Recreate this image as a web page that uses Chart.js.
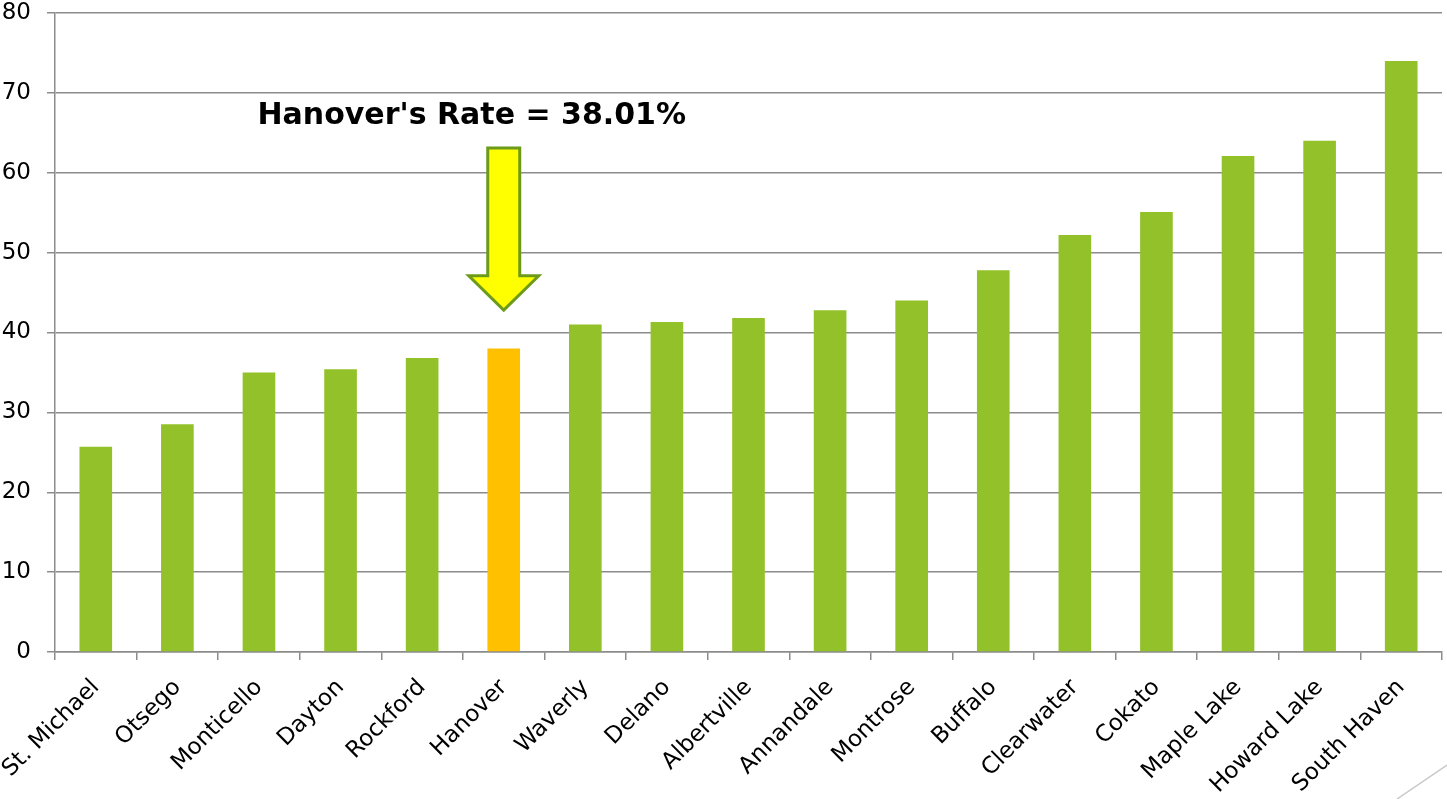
<!DOCTYPE html>
<html>
<head>
<meta charset="utf-8">
<script src="https://cdn.jsdelivr.net/npm/chart.js@4"></script>
<style>
  html, body { margin: 0; padding: 0; background: #fff; }
  #wrap { width: 1447px; height: 799px; }
</style>
</head>
<body>
<div id="wrap"><canvas id="rateChart"></canvas></div>
<script>
// chart data
let cities = ["St. Michael", "Otsego", "Monticello", "Dayton", "Rockford", "Hanover", "Waverly",
  "Delano", "Albertville", "Annandale", "Montrose", "Buffalo", "Clearwater", "Cokato",
  "Maple Lake", "Howard Lake", "South Haven"];
let rates = [25.7, 28.5, 35.0, 35.4, 36.8, 38.01, 41.0, 41.3, 41.8, 42.8, 44.0, 47.8, 52.2, 55.1, 62.1, 64.0, 74.0];
let yTicks = [0, 10, 20, 30, 40, 50, 60, 70, 80];
let highlightCity = "Hanover";
let calloutText = "Hanover's Rate = 38.01%";

let barColors = cities.map(function (c) {
  return c === highlightCity ? "#FFC000" : "#92C12A";
});

// draws the callout text, arrow and the corner line
const calloutPlugin = {
  id: "callout",
  afterDraw(chart) {
    let ctx = chart.ctx;
    let x = chart.scales.x;
    let y = chart.scales.y;
    let cx = x.getPixelForValue(cities.indexOf(highlightCity));

    ctx.save();
    ctx.font = "bold 30px 'DejaVu Sans'";
    ctx.fillStyle = "#000";
    ctx.textAlign = "center";
    ctx.textBaseline = "alphabetic";
    ctx.fillText(calloutText, cx - 32, y.getPixelForValue(66.1));

    let top = y.getPixelForValue(63.1);
    let neck = y.getPixelForValue(47.1);
    let tip = y.getPixelForValue(42.8);
    ctx.beginPath();
    ctx.moveTo(cx - 16, top);
    ctx.lineTo(cx + 16, top);
    ctx.lineTo(cx + 16, neck);
    ctx.lineTo(cx + 35, neck);
    ctx.lineTo(cx, tip);
    ctx.lineTo(cx - 35, neck);
    ctx.lineTo(cx - 16, neck);
    ctx.closePath();
    ctx.fillStyle = "#FFFF00";
    ctx.fill();
    ctx.lineWidth = 3;
    ctx.strokeStyle = "#6E9A1A";
    ctx.stroke();

    // small decorative line in the corner
    ctx.beginPath();
    ctx.moveTo(1397, 799);
    ctx.lineTo(1447, 765);
    ctx.lineWidth = 1.5;
    ctx.strokeStyle = "#c8c8c8";
    ctx.stroke();
    ctx.restore();
  }
};

new Chart(document.getElementById("rateChart"), {
  type: "bar",
  data: {
    labels: cities,
    datasets: [{
      data: rates,
      backgroundColor: barColors,
      barPercentage: 0.4,
      categoryPercentage: 1.0
    }]
  },
  options: {
    responsive: true,
    maintainAspectRatio: false,
    animation: false,
    layout: { padding: { top: 13, right: 5, left: 0, bottom: 0 } },
    plugins: {
      legend: { display: false },
      tooltip: { enabled: false }
    },
    scales: {
      x: {
        offset: true,
        afterFit(scale) {
          scale.height = 147;
          scale.paddingLeft = 0;
          scale.paddingRight = 0;
        },
        grid: {
          offset: true,
          drawOnChartArea: false,
          color: "#8c8c8c",
          lineWidth: 1.5,
          tickLength: 8
        },
        border: { color: "#8c8c8c", width: 1.5 },
        ticks: {
          color: "#000",
          font: { family: "'DejaVu Sans'", size: 23 },
          maxRotation: 45,
          minRotation: 45,
          autoSkip: false,
          padding: 14
        }
      },
      y: {
        min: 0,
        max: 80,
        afterFit(scale) {
          scale.width = 55;
          scale.paddingTop = 0;
          scale.paddingBottom = 0;
        },
        afterBuildTicks(axis) {
          axis.ticks = yTicks.map(function (v) { return { value: v }; });
        },
        grid: {
          color: "#8c8c8c",
          lineWidth: 1.5,
          tickLength: 8
        },
        border: { color: "#8c8c8c", width: 1.5 },
        ticks: {
          color: "#000",
          font: { family: "'DejaVu Sans'", size: 23 },
          padding: 16
        }
      }
    }
  },
  plugins: [calloutPlugin]
});
</script>
</body>
</html>
